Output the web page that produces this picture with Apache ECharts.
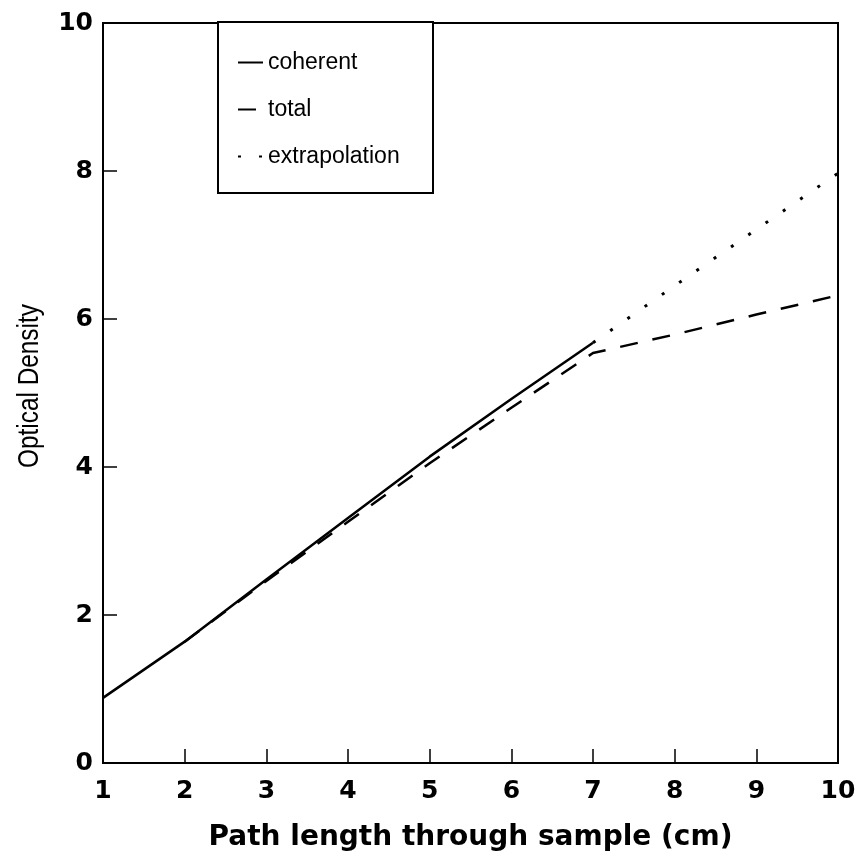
<!DOCTYPE html>
<html>
<head>
<meta charset="utf-8">
<script src="https://cdn.jsdelivr.net/npm/echarts@6/dist/echarts.min.js"></script>
<style>html,body{margin:0;padding:0;background:#fff}#c{width:859px;height:857px}</style>
</head>
<body>
<div id="c"></div>
<script>
// Data
const seriesNames = ['coherent', 'total', 'extrapolation'];
const coherentX = [1, 2, 3, 4, 5, 6, 7];
const coherentY = [0.88, 1.64, 2.48, 3.31, 4.14, 4.92, 5.68];
const totalX = [2, 3, 4, 5, 6, 7, 8, 9, 10];
const totalY = [1.64, 2.46, 3.26, 4.05, 4.80, 5.54, 5.79, 6.06, 6.32];
const extrapX = [7, 8, 9, 10];
const extrapY = [5.68, 6.45, 7.21, 7.97];
const xTicks = [1, 2, 3, 4, 5, 6, 7, 8, 9, 10];
const yTicks = [0, 2, 4, 6, 8, 10];
const xTitle = 'Path length through sample (cm)';
const yTitle = 'Optical Density';

const pair = (xs, ys) => xs.map((x, i) => [x, ys[i]]);

const chart = echarts.init(document.getElementById('c'), null, {renderer: 'canvas'});
const tickFont = {fontFamily: 'DejaVu Sans', fontWeight: 'bold', fontSize: 25, color: '#000'};
chart.setOption({
  backgroundColor: '#fff',
  animation: false,
  grid: {left: 103, right: 21, top: 23, bottom: 93, show: true, borderColor: '#000', borderWidth: 2, backgroundColor: 'transparent'},
  xAxis: {
    type: 'value', min: xTicks[0], max: xTicks[xTicks.length - 1], interval: 1,
    axisLine: {show: true, lineStyle: {color: '#000', width: 2}},
    axisTick: {show: true, inside: true, length: 14, lineStyle: {color: '#000', width: 1.5}},
    splitLine: {show: false},
    axisLabel: Object.assign({margin: 16}, tickFont),
    name: xTitle, nameLocation: 'middle', nameGap: 61,
    nameTextStyle: {fontFamily: 'DejaVu Sans', fontWeight: 'bold', fontSize: 28, color: '#000'}
  },
  yAxis: {
    type: 'value', min: yTicks[0], max: yTicks[yTicks.length - 1], interval: 2,
    axisLine: {show: true, lineStyle: {color: '#000', width: 2}},
    axisTick: {show: true, inside: true, length: 14, lineStyle: {color: '#000', width: 1.5}},
    splitLine: {show: false},
    axisLabel: Object.assign({margin: 10}, tickFont)
  },
  legend: {
    orient: 'vertical', left: 237, top: 51, padding: 0,
    itemWidth: 25, itemHeight: 22, itemGap: 24,
    itemStyle: {opacity: 0},
    textStyle: {fontFamily: 'Liberation Sans', fontSize: 23, color: '#000', lineHeight: 22},
    data: seriesNames
  },
  graphic: [{
    type: 'rect', left: 217, top: 21, z: 0,
    shape: {width: 215, height: 171},
    style: {fill: '#fff', stroke: '#000', lineWidth: 2}
  }, {
    type: 'text', x: 30, y: 386, rotation: Math.PI / 2, scaleX: 0.84, z: 10,
    style: {text: yTitle, fontFamily: 'Liberation Sans', fontSize: 29, fill: '#000', align: 'center', verticalAlign: 'middle'}
  }],
  series: [
    {name: seriesNames[0], type: 'line', data: pair(coherentX, coherentY), symbol: 'none',
     lineStyle: {color: '#000', width: 2.5, type: 'solid'}, itemStyle: {color: '#000'}},
    {name: seriesNames[1], type: 'line', data: pair(totalX, totalY), symbol: 'none',
     lineStyle: {color: '#000', width: 2.5, type: [18, 15]}, itemStyle: {color: '#000'}},
    {name: seriesNames[2], type: 'line', data: pair(extrapX, extrapY), symbol: 'none',
     lineStyle: {color: '#000', width: 3, type: [3, 18]}, itemStyle: {color: '#000'}}
  ]
});
</script>
</body>
</html>
